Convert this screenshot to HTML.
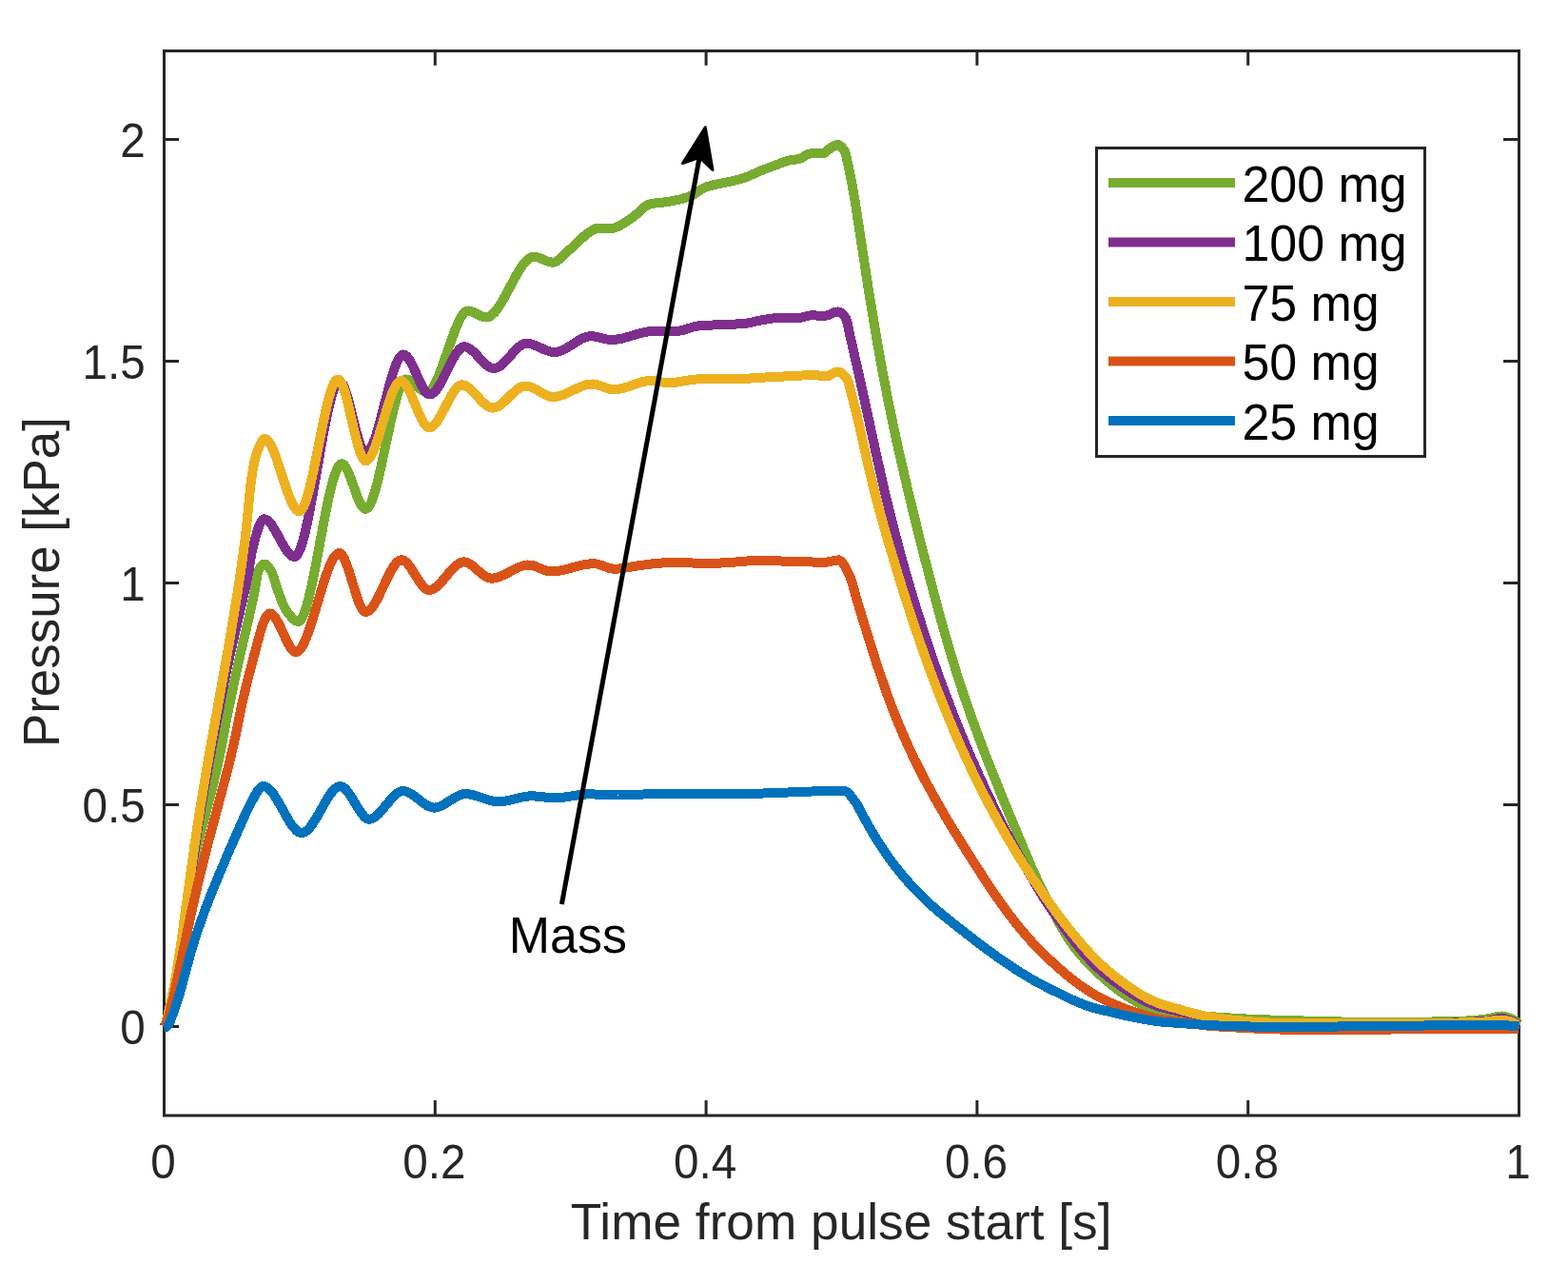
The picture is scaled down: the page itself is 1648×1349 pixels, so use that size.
<!DOCTYPE html>
<html><head><meta charset="utf-8"><title>Pressure vs time</title>
<style>
html,body{margin:0;padding:0;background:#fff;}
svg{display:block;}
text{font-family:"Liberation Sans",Arial,Helvetica,sans-serif;}
.tk{font-size:48.6px;fill:#262626;}
.lab{font-size:52.4px;fill:#262626;}
.leg{font-size:52.0px;fill:#000;}
</style></head><body>
<svg width="1648" height="1349" viewBox="0 0 1648 1349">
<rect x="0" y="0" width="1648" height="1349" fill="#fff"/>
<path d="M172.5,1172V1156M172.5,53.5V68.7M457.3,1172V1156M457.3,53.5V68.7M742.1,1172V1156M742.1,53.5V68.7M1026.9,1172V1156M1026.9,53.5V68.7M1311.7,1172V1156M1311.7,53.5V68.7M1596.5,1172V1156M1596.5,53.5V68.7M172.5,1078.5H188M1596.5,1078.5H1580M172.5,845.5H188M1596.5,845.5H1580M172.5,612.5H188M1596.5,612.5H1580M172.5,379.5H188M1596.5,379.5H1580M172.5,146.5H188M1596.5,146.5H1580" stroke="#262626" stroke-width="3" fill="none"/>
<text transform="translate(158.35,1237.50) scale(0.9530,1)" class="tk" style="font-size:50.0px">0</text>
<text transform="translate(423.28,1237.50) scale(0.9530,1)" class="tk" style="font-size:50.0px">0.2</text>
<text transform="translate(708.08,1237.50) scale(0.9530,1)" class="tk" style="font-size:50.0px">0.4</text>
<text transform="translate(992.88,1237.50) scale(0.9530,1)" class="tk" style="font-size:50.0px">0.6</text>
<text transform="translate(1277.68,1237.50) scale(0.9530,1)" class="tk" style="font-size:50.0px">0.8</text>
<text transform="translate(1582.35,1237.50) scale(0.9530,1)" class="tk" style="font-size:50.0px">1</text>
<text transform="translate(126.19,1096.90) scale(0.9530,1)" class="tk" style="font-size:50.0px">0</text>
<text transform="translate(86.46,863.90) scale(0.9530,1)" class="tk" style="font-size:50.0px">0.5</text>
<text transform="translate(126.19,630.90) scale(0.9530,1)" class="tk" style="font-size:50.0px">1</text>
<text transform="translate(86.46,397.90) scale(0.9530,1)" class="tk" style="font-size:50.0px">1.5</text>
<text transform="translate(126.19,164.90) scale(0.9530,1)" class="tk" style="font-size:50.0px">2</text>
<text transform="translate(599.84,1301.90) scale(1.0040,1)" class="lab" style="font-size:53px">Time from pulse start [s]</text>
<text transform="translate(61.9,785.03) rotate(-90) scale(0.998,1)" class="lab" style="font-size:53px">Pressure [kPa]</text>
<path d="M172.5,1172V53.5H1596.5V1172Z" stroke="#262626" stroke-width="3" fill="none"/>
<g stroke="#77AC30" fill="none" stroke-linejoin="round" stroke-linecap="butt" shape-rendering="crispEdges"><path d="M172.6,1078.5 L173.6,1077.4 L174.6,1075.6 L175.6,1073.4 L177.6,1067.4 L180.6,1055.4 L184.6,1034.9 L189.6,1004.9 L193.6,967.4 L195.6,951.8 L199.6,926.9 L204.6,901.1 L208.6,884.0 L223.6,825.9 L228.6,804.9 L231.6,790.3 L238.6,753.3 L246.6,714.3 L251.6,691.8 L262.6,644.5 L266.6,626.0 L268.6,615.3 L270.6,602.7 L271.6,599.5 L273.6,596.1 L274.6,594.8 L275.6,593.7 L276.6,593.0 L277.6,592.6 L278.6,592.7 L279.6,593.1 L280.6,594.0 L282.6,596.4 L285.6,601.2 L287.6,606.5 L291.6,619.3 L296.6,632.9 L298.6,637.5 L299.6,639.3 L302.6,643.7 L306.6,648.8 L308.6,650.8 L310.6,652.2 L312.6,652.9 L313.6,653.0 L314.6,652.6 L315.6,651.8 L317.6,649.0 L319.6,644.6 L321.6,638.8 L324.6,628.0 L327.6,615.0 L330.6,600.4 L340.6,547.1 L345.6,522.5 L348.6,509.9 L350.6,502.7 L353.6,494.2 L355.6,490.3 L356.6,488.9 L357.6,487.9 L358.6,487.4 L359.6,487.3 L360.6,487.7 L361.6,488.5 L362.6,489.7 L364.6,493.0 L366.6,497.3 L368.6,502.4 L375.6,521.9 L377.6,526.8 L379.6,530.7 L381.6,533.5 L382.6,534.4 L383.6,534.8 L384.6,534.9 L385.6,534.4 L386.6,533.6 L388.6,530.8 L390.6,526.6 L392.6,521.1 L394.6,514.5 L396.6,507.1 L399.6,494.5 L410.6,443.3 L414.6,426.3 L417.6,415.4 L419.6,409.4 L421.6,404.5 L423.6,401.0 L424.6,399.8 L425.6,399.0 L426.6,398.5 L428.6,398.7 L430.6,399.5 L432.6,400.7 L435.6,403.2 L441.6,408.7 L443.6,410.2 L445.6,411.3 L447.6,411.9 L449.6,411.9 L450.6,411.4 L452.6,409.9 L454.6,407.5 L456.6,404.3 L458.6,400.4 L460.6,395.9 L464.6,385.7 L474.6,356.7 L478.6,346.0 L482.6,336.8 L484.6,333.2 L486.6,330.2 L488.6,328.0 L489.6,327.3 L490.6,326.8 L492.6,326.5 L494.6,326.8 L496.6,327.5 L505.6,332.1 L507.6,332.8 L509.6,333.3 L511.6,333.4 L513.6,332.9 L515.6,331.9 L517.6,330.3 L519.6,328.4 L521.6,326.0 L523.6,323.3 L526.6,318.6 L531.6,309.8 L541.6,291.0 L546.6,282.5 L549.6,278.2 L551.6,275.6 L553.6,273.5 L555.6,271.8 L557.6,270.6 L559.6,269.9 L560.6,269.7 L562.6,269.8 L566.6,270.8 L574.6,274.2 L577.6,275.2 L580.6,275.7 L581.6,275.7 L583.6,275.2 L585.6,274.2 L588.6,271.9 L596.6,264.1 L601.6,259.8 L614.6,247.5 L618.6,244.5 L622.6,242.0 L625.6,240.3 L627.6,239.8 L643.6,239.8 L646.6,239.2 L649.6,238.0 L653.6,235.8 L664.6,228.6 L667.6,226.3 L676.6,218.1 L679.6,216.0 L681.6,214.9 L683.6,214.3 L687.6,213.6 L700.6,212.2 L706.6,211.2 L714.6,209.5 L721.6,207.5 L724.6,206.5 L727.6,205.1 L737.6,198.7 L740.6,197.1 L742.6,196.3 L751.6,193.8 L771.6,189.8 L780.6,187.4 L786.6,185.2 L799.6,179.4 L824.6,169.9 L829.6,168.5 L837.6,167.4 L840.6,166.8 L842.6,165.9 L847.6,162.7 L849.6,161.8 L852.6,161.4 L864.6,161.1 L866.6,160.7 L868.6,159.2 L871.6,156.4 L872.6,155.6 L877.6,152.9 L879.6,152.3 L880.6,152.2 L881.6,152.3 L882.6,152.8 L884.6,154.5 L887.6,158.6 L888.6,160.9 L889.6,164.9 L894.6,188.6 L898.6,211.1 L912.6,302.8 L921.6,357.4 L927.6,390.7 L932.6,416.7 L938.6,445.9 L944.6,473.6 L955.6,521.1 L969.6,577.8 L985.6,638.9 L991.6,660.6 L997.6,681.3 L1005.6,707.6 L1013.6,732.2 L1021.6,755.2 L1031.6,782.3 L1040.6,805.7 L1052.6,835.6 L1082.6,907.5 L1086.6,916.6 L1096.6,937.6 L1103.6,951.8 L1110.6,965.2 L1115.6,974.2 L1120.6,982.6 L1125.6,990.2 L1130.6,997.0 L1136.6,1004.3 L1142.6,1010.9 L1149.6,1018.0 L1157.6,1025.5 L1163.6,1030.9 L1169.6,1035.8 L1178.6,1042.6 L1185.6,1047.3 L1196.6,1053.9 L1199.6,1055.3 L1203.6,1056.7 L1209.6,1058.5 L1215.6,1060.0 L1225.6,1062.1 L1234.6,1063.8 L1247.6,1065.7 L1263.6,1067.4 L1282.6,1068.9 L1303.6,1070.2 L1325.6,1071.2 L1347.6,1071.9 L1398.6,1073.3 L1431.6,1073.9 L1454.6,1074.0 L1482.6,1073.8 L1513.6,1073.4 L1536.6,1072.8 L1548.6,1072.0 L1560.6,1070.9 L1564.6,1070.2 L1573.6,1067.9 L1576.6,1067.6 L1578.6,1067.5 L1582.6,1068.2 L1588.6,1070.2 L1590.6,1071.3 L1592.6,1072.7 L1596.5,1076.0" stroke-width="10"/><path d="M172.6,1078.5 L173.6,1077.4 L174.6,1075.6 L175.6,1073.4 L177.6,1067.4 L180.6,1055.4 L184.6,1034.9 L189.6,1004.9 L193.6,967.4 L195.6,951.8 L199.6,926.9 L204.6,901.1 L208.6,884.0 L223.6,825.9 L228.6,804.9 L231.6,790.3 L238.6,753.3 L246.6,714.3 L251.6,691.8 L262.6,644.5 L266.6,626.0 L268.6,615.3 L270.6,602.7 L271.6,599.5 L273.6,596.1 L274.6,594.8 L275.6,593.7 L276.6,593.0 L277.6,592.6 L278.6,592.7 L279.6,593.1 L280.6,594.0 L282.6,596.4 L285.6,601.2 L287.6,606.5 L291.6,619.3 L296.6,632.9 L298.6,637.5 L299.6,639.3 L302.6,643.7 L306.6,648.8 L308.6,650.8 L310.6,652.2 L312.6,652.9 L313.6,653.0 L314.6,652.6 L315.6,651.8 L317.6,649.0 L319.6,644.6 L321.6,638.8 L324.6,628.0 L327.6,615.0 L330.6,600.4 L340.6,547.1 L345.6,522.5 L348.6,509.9 L350.6,502.7 L353.6,494.2 L355.6,490.3 L356.6,488.9 L357.6,487.9 L358.6,487.4 L359.6,487.3 L360.6,487.7 L361.6,488.5 L362.6,489.7 L364.6,493.0 L366.6,497.3 L368.6,502.4 L375.6,521.9 L377.6,526.8 L379.6,530.7 L381.6,533.5 L382.6,534.4 L383.6,534.8 L384.6,534.9 L385.6,534.4 L386.6,533.6 L388.6,530.8 L390.6,526.6 L392.6,521.1 L394.6,514.5 L396.6,507.1 L399.6,494.5 L410.6,443.3 L414.6,426.3 L417.6,415.4 L419.6,409.4 L421.6,404.5 L423.6,401.0 L424.6,399.8 L425.6,399.0 L426.6,398.5 L428.6,398.7 L430.6,399.5 L432.6,400.7 L435.6,403.2 L441.6,408.7 L443.6,410.2 L445.6,411.3 L447.6,411.9 L449.6,411.9 L450.6,411.4 L452.6,409.9 L454.6,407.5 L456.6,404.3 L458.6,400.4 L460.6,395.9 L464.6,385.7 L474.6,356.7 L478.6,346.0 L482.6,336.8 L484.6,333.2 L486.6,330.2 L488.6,328.0 L489.6,327.3 L490.6,326.8 L492.6,326.5 L494.6,326.8 L496.6,327.5 L505.6,332.1 L507.6,332.8 L509.6,333.3 L511.6,333.4 L513.6,332.9 L515.6,331.9 L517.6,330.3 L519.6,328.4 L521.6,326.0 L523.6,323.3 L526.6,318.6 L531.6,309.8 L541.6,291.0 L546.6,282.5 L549.6,278.2 L551.6,275.6 L553.6,273.5 L555.6,271.8 L557.6,270.6 L559.6,269.9 L560.6,269.7 L562.6,269.8 L566.6,270.8 L574.6,274.2 L577.6,275.2 L580.6,275.7 L581.6,275.7 L583.6,275.2 L585.6,274.2 L588.6,271.9 L596.6,264.1 L601.6,259.8 L614.6,247.5 L618.6,244.5 L622.6,242.0 L625.6,240.3 L627.6,239.8 L643.6,239.8 L646.6,239.2 L649.6,238.0 L653.6,235.8 L664.6,228.6 L667.6,226.3 L676.6,218.1 L679.6,216.0 L681.6,214.9 L683.6,214.3 L687.6,213.6 L700.6,212.2 L706.6,211.2 L714.6,209.5 L721.6,207.5 L724.6,206.5 L727.6,205.1 L737.6,198.7 L740.6,197.1 L742.6,196.3 L751.6,193.8 L771.6,189.8 L780.6,187.4 L786.6,185.2 L799.6,179.4 L824.6,169.9 L829.6,168.5 L837.6,167.4 L840.6,166.8 L842.6,165.9 L847.6,162.7 L849.6,161.8 L852.6,161.4 L864.6,161.1 L866.6,160.7 L868.6,159.2 L871.6,156.4 L872.6,155.6 L877.6,152.9 L879.6,152.3 L880.6,152.2 L881.6,152.3 L882.6,152.8 L884.6,154.5 L887.6,158.6 L888.6,160.9 L889.6,164.9 L894.6,188.6 L898.6,211.1 L912.6,302.8 L921.6,357.4 L927.6,390.7 L932.6,416.7 L938.6,445.9 L944.6,473.6 L955.6,521.1 L969.6,577.8 L985.6,638.9 L991.6,660.6 L997.6,681.3 L1005.6,707.6 L1013.6,732.2 L1021.6,755.2 L1031.6,782.3 L1040.6,805.7 L1052.6,835.6 L1082.6,907.5 L1086.6,916.6 L1096.6,937.6 L1103.6,951.8 L1110.6,965.2 L1115.6,974.2 L1120.6,982.6 L1125.6,990.2 L1130.6,997.0 L1136.6,1004.3 L1142.6,1010.9 L1149.6,1018.0 L1157.6,1025.5 L1163.6,1030.9 L1169.6,1035.8 L1178.6,1042.6 L1185.6,1047.3 L1196.6,1053.9 L1199.6,1055.3 L1203.6,1056.7 L1209.6,1058.5 L1215.6,1060.0 L1225.6,1062.1 L1234.6,1063.8 L1247.6,1065.7 L1263.6,1067.4 L1282.6,1068.9 L1303.6,1070.2 L1325.6,1071.2 L1347.6,1071.9 L1398.6,1073.3 L1431.6,1073.9 L1454.6,1074.0 L1482.6,1073.8 L1513.6,1073.4 L1536.6,1072.8 L1548.6,1072.0 L1560.6,1070.9 L1564.6,1070.2 L1573.6,1067.9 L1576.6,1067.6 L1578.6,1067.5 L1582.6,1068.2 L1588.6,1070.2 L1590.6,1071.3 L1592.6,1072.7 L1596.5,1076.0" stroke-width="4"/></g>
<g stroke="#7E2F8E" fill="none" stroke-linejoin="round" stroke-linecap="butt" shape-rendering="crispEdges"><path d="M172.7,1078.5 L174.7,1073.4 L176.7,1067.5 L180.7,1053.7 L183.7,1040.8 L186.7,1024.5 L191.7,990.6 L202.7,907.3 L207.7,871.8 L212.7,840.2 L220.7,795.4 L237.7,706.5 L242.7,683.5 L257.7,618.2 L261.7,598.2 L264.7,579.3 L267.7,567.6 L270.7,557.2 L272.7,551.6 L273.7,549.4 L274.7,547.6 L275.7,546.3 L276.7,545.5 L277.7,545.3 L278.7,545.5 L279.7,545.8 L281.7,547.1 L283.7,549.2 L285.7,551.7 L289.7,558.2 L296.7,571.0 L299.7,576.1 L302.7,580.3 L304.7,582.6 L306.7,584.1 L307.7,584.6 L309.7,585.0 L310.7,584.7 L311.7,583.9 L312.7,582.6 L313.7,581.0 L315.7,576.5 L318.7,567.1 L320.7,559.3 L323.7,545.6 L328.7,519.3 L339.7,456.6 L344.7,431.7 L347.7,419.5 L349.7,412.8 L351.7,407.4 L352.7,405.3 L354.7,402.3 L355.7,401.4 L356.7,401.0 L357.7,401.1 L358.7,401.8 L359.7,403.0 L361.7,406.8 L363.7,412.1 L365.7,418.7 L374.7,454.1 L377.7,464.4 L379.7,469.9 L381.7,473.8 L382.7,475.0 L383.7,475.8 L384.7,476.0 L385.7,475.7 L386.7,475.1 L388.7,472.8 L390.7,469.2 L393.7,461.8 L395.7,455.8 L398.7,445.5 L408.7,406.9 L411.7,396.2 L413.7,389.8 L416.7,381.7 L418.7,377.5 L420.7,374.5 L421.7,373.5 L422.7,372.8 L423.7,372.5 L424.7,372.6 L425.7,373.0 L427.7,374.6 L429.7,377.2 L431.7,380.5 L433.7,384.4 L441.7,402.0 L444.7,407.7 L446.7,410.8 L448.7,413.0 L450.7,414.2 L451.7,414.4 L453.7,414.0 L455.7,412.7 L457.7,410.8 L459.7,408.2 L461.7,405.1 L464.7,399.8 L474.7,379.6 L478.7,372.5 L480.7,369.6 L482.7,367.2 L484.7,365.5 L486.7,364.5 L487.7,364.3 L489.7,364.5 L491.7,365.2 L493.7,366.3 L495.7,367.8 L498.7,370.5 L507.7,380.1 L511.7,383.7 L513.7,385.2 L515.7,386.2 L517.7,386.9 L519.7,387.0 L522.7,386.2 L524.7,385.2 L526.7,383.8 L530.7,380.1 L540.7,369.0 L544.7,365.1 L546.7,363.5 L548.7,362.2 L550.7,361.3 L552.7,360.8 L554.7,360.8 L556.7,361.1 L560.7,362.2 L564.7,363.8 L572.7,367.5 L577.7,369.3 L581.7,370.0 L584.7,369.9 L587.7,369.2 L591.7,367.7 L596.7,365.0 L606.7,358.5 L610.7,356.2 L614.7,354.4 L618.7,353.4 L621.7,353.2 L624.7,353.5 L628.7,354.3 L636.7,356.3 L639.7,356.8 L642.7,357.0 L646.7,356.8 L650.7,356.2 L654.7,355.4 L673.7,349.9 L677.7,349.0 L681.7,348.3 L686.7,347.9 L710.7,347.9 L713.7,347.7 L717.7,346.9 L728.7,343.5 L733.7,342.4 L743.7,341.7 L770.7,340.7 L782.7,339.9 L786.7,339.3 L796.7,337.0 L809.7,334.8 L815.7,334.0 L822.7,333.7 L837.7,334.5 L840.7,334.1 L848.7,331.9 L851.7,331.4 L854.7,331.3 L863.7,331.9 L866.7,332.0 L869.7,331.3 L877.7,328.0 L880.7,327.5 L881.7,327.6 L883.7,328.6 L884.7,329.4 L886.7,331.4 L888.7,334.0 L889.7,336.2 L890.7,339.7 L893.7,353.9 L904.7,402.3 L921.7,480.6 L929.7,515.9 L934.7,536.7 L940.7,560.2 L946.7,582.9 L952.7,604.5 L963.7,641.4 L975.7,678.6 L981.7,696.1 L988.7,715.7 L1001.7,750.1 L1009.7,770.1 L1017.7,789.2 L1026.7,809.7 L1035.7,829.4 L1044.7,848.3 L1053.7,866.5 L1061.7,881.8 L1071.7,900.1 L1080.7,915.9 L1093.7,938.0 L1098.7,946.0 L1107.7,959.3 L1119.7,976.4 L1129.7,989.8 L1138.7,1000.9 L1147.7,1011.0 L1151.7,1015.0 L1156.7,1019.5 L1165.7,1026.9 L1173.7,1032.9 L1183.7,1039.8 L1194.7,1046.8 L1198.7,1049.1 L1205.7,1052.6 L1214.7,1056.4 L1218.7,1057.8 L1223.7,1059.2 L1259.7,1067.1 L1271.7,1069.2 L1286.7,1071.2 L1299.7,1072.5 L1328.7,1074.4 L1339.7,1074.8 L1349.7,1075.0 L1500.7,1075.0 L1518.7,1074.8 L1539.7,1074.1 L1560.7,1072.9 L1564.7,1072.3 L1573.7,1070.4 L1576.7,1070.0 L1578.7,1070.0 L1580.7,1070.2 L1583.7,1070.9 L1589.7,1072.9 L1592.7,1074.3 L1596.5,1077.0" stroke-width="10"/><path d="M172.7,1078.5 L174.7,1073.4 L176.7,1067.5 L180.7,1053.7 L183.7,1040.8 L186.7,1024.5 L191.7,990.6 L202.7,907.3 L207.7,871.8 L212.7,840.2 L220.7,795.4 L237.7,706.5 L242.7,683.5 L257.7,618.2 L261.7,598.2 L264.7,579.3 L267.7,567.6 L270.7,557.2 L272.7,551.6 L273.7,549.4 L274.7,547.6 L275.7,546.3 L276.7,545.5 L277.7,545.3 L278.7,545.5 L279.7,545.8 L281.7,547.1 L283.7,549.2 L285.7,551.7 L289.7,558.2 L296.7,571.0 L299.7,576.1 L302.7,580.3 L304.7,582.6 L306.7,584.1 L307.7,584.6 L309.7,585.0 L310.7,584.7 L311.7,583.9 L312.7,582.6 L313.7,581.0 L315.7,576.5 L318.7,567.1 L320.7,559.3 L323.7,545.6 L328.7,519.3 L339.7,456.6 L344.7,431.7 L347.7,419.5 L349.7,412.8 L351.7,407.4 L352.7,405.3 L354.7,402.3 L355.7,401.4 L356.7,401.0 L357.7,401.1 L358.7,401.8 L359.7,403.0 L361.7,406.8 L363.7,412.1 L365.7,418.7 L374.7,454.1 L377.7,464.4 L379.7,469.9 L381.7,473.8 L382.7,475.0 L383.7,475.8 L384.7,476.0 L385.7,475.7 L386.7,475.1 L388.7,472.8 L390.7,469.2 L393.7,461.8 L395.7,455.8 L398.7,445.5 L408.7,406.9 L411.7,396.2 L413.7,389.8 L416.7,381.7 L418.7,377.5 L420.7,374.5 L421.7,373.5 L422.7,372.8 L423.7,372.5 L424.7,372.6 L425.7,373.0 L427.7,374.6 L429.7,377.2 L431.7,380.5 L433.7,384.4 L441.7,402.0 L444.7,407.7 L446.7,410.8 L448.7,413.0 L450.7,414.2 L451.7,414.4 L453.7,414.0 L455.7,412.7 L457.7,410.8 L459.7,408.2 L461.7,405.1 L464.7,399.8 L474.7,379.6 L478.7,372.5 L480.7,369.6 L482.7,367.2 L484.7,365.5 L486.7,364.5 L487.7,364.3 L489.7,364.5 L491.7,365.2 L493.7,366.3 L495.7,367.8 L498.7,370.5 L507.7,380.1 L511.7,383.7 L513.7,385.2 L515.7,386.2 L517.7,386.9 L519.7,387.0 L522.7,386.2 L524.7,385.2 L526.7,383.8 L530.7,380.1 L540.7,369.0 L544.7,365.1 L546.7,363.5 L548.7,362.2 L550.7,361.3 L552.7,360.8 L554.7,360.8 L556.7,361.1 L560.7,362.2 L564.7,363.8 L572.7,367.5 L577.7,369.3 L581.7,370.0 L584.7,369.9 L587.7,369.2 L591.7,367.7 L596.7,365.0 L606.7,358.5 L610.7,356.2 L614.7,354.4 L618.7,353.4 L621.7,353.2 L624.7,353.5 L628.7,354.3 L636.7,356.3 L639.7,356.8 L642.7,357.0 L646.7,356.8 L650.7,356.2 L654.7,355.4 L673.7,349.9 L677.7,349.0 L681.7,348.3 L686.7,347.9 L710.7,347.9 L713.7,347.7 L717.7,346.9 L728.7,343.5 L733.7,342.4 L743.7,341.7 L770.7,340.7 L782.7,339.9 L786.7,339.3 L796.7,337.0 L809.7,334.8 L815.7,334.0 L822.7,333.7 L837.7,334.5 L840.7,334.1 L848.7,331.9 L851.7,331.4 L854.7,331.3 L863.7,331.9 L866.7,332.0 L869.7,331.3 L877.7,328.0 L880.7,327.5 L881.7,327.6 L883.7,328.6 L884.7,329.4 L886.7,331.4 L888.7,334.0 L889.7,336.2 L890.7,339.7 L893.7,353.9 L904.7,402.3 L921.7,480.6 L929.7,515.9 L934.7,536.7 L940.7,560.2 L946.7,582.9 L952.7,604.5 L963.7,641.4 L975.7,678.6 L981.7,696.1 L988.7,715.7 L1001.7,750.1 L1009.7,770.1 L1017.7,789.2 L1026.7,809.7 L1035.7,829.4 L1044.7,848.3 L1053.7,866.5 L1061.7,881.8 L1071.7,900.1 L1080.7,915.9 L1093.7,938.0 L1098.7,946.0 L1107.7,959.3 L1119.7,976.4 L1129.7,989.8 L1138.7,1000.9 L1147.7,1011.0 L1151.7,1015.0 L1156.7,1019.5 L1165.7,1026.9 L1173.7,1032.9 L1183.7,1039.8 L1194.7,1046.8 L1198.7,1049.1 L1205.7,1052.6 L1214.7,1056.4 L1218.7,1057.8 L1223.7,1059.2 L1259.7,1067.1 L1271.7,1069.2 L1286.7,1071.2 L1299.7,1072.5 L1328.7,1074.4 L1339.7,1074.8 L1349.7,1075.0 L1500.7,1075.0 L1518.7,1074.8 L1539.7,1074.1 L1560.7,1072.9 L1564.7,1072.3 L1573.7,1070.4 L1576.7,1070.0 L1578.7,1070.0 L1580.7,1070.2 L1583.7,1070.9 L1589.7,1072.9 L1592.7,1074.3 L1596.5,1077.0" stroke-width="4"/></g>
<g stroke="#EDB120" fill="none" stroke-linejoin="round" stroke-linecap="butt" shape-rendering="crispEdges"><path d="M173.2,1078.5 L176.2,1067.4 L179.2,1054.9 L182.2,1040.5 L185.2,1024.1 L190.2,991.8 L204.2,890.0 L210.2,849.9 L218.2,801.9 L239.2,684.8 L245.2,649.9 L249.2,625.4 L253.2,598.9 L257.2,569.8 L259.2,552.6 L263.2,510.5 L265.2,496.8 L267.2,485.9 L269.2,477.9 L273.2,467.3 L275.2,463.4 L276.2,462.1 L277.2,461.3 L278.2,461.0 L279.2,461.2 L280.2,461.7 L282.2,463.7 L283.2,465.1 L285.2,468.6 L287.2,472.9 L290.2,480.7 L301.2,514.1 L304.2,522.4 L306.2,527.1 L309.2,532.8 L311.2,535.4 L312.2,536.3 L313.2,536.9 L314.2,537.2 L315.2,537.1 L316.2,536.5 L317.2,535.4 L319.2,532.1 L321.2,527.1 L323.2,520.9 L325.2,513.5 L328.2,500.6 L339.2,445.9 L344.2,423.4 L347.2,412.5 L349.2,406.6 L351.2,402.2 L352.2,400.6 L353.2,399.5 L354.2,398.7 L355.2,398.5 L356.2,398.8 L357.2,399.7 L358.2,401.1 L359.2,402.9 L361.2,408.0 L363.2,414.4 L365.2,422.0 L373.2,456.4 L377.2,471.5 L379.2,477.3 L381.2,481.6 L382.2,483.0 L383.2,483.9 L384.2,484.3 L385.2,484.2 L386.2,483.7 L388.2,481.7 L390.2,478.6 L392.2,474.5 L394.2,469.5 L397.2,460.9 L407.2,427.7 L410.2,418.6 L412.2,413.1 L415.2,406.5 L417.2,403.2 L419.2,401.0 L420.2,400.5 L421.2,400.2 L422.2,400.3 L423.2,400.7 L424.2,401.4 L425.2,402.4 L427.2,405.1 L429.2,408.5 L431.2,412.6 L440.2,434.2 L444.2,442.5 L446.2,445.6 L448.2,447.9 L449.2,448.7 L450.2,449.1 L451.2,449.3 L452.2,449.2 L454.2,448.3 L456.2,446.7 L458.2,444.4 L460.2,441.6 L463.2,436.6 L473.2,417.6 L477.2,411.0 L479.2,408.4 L481.2,406.3 L483.2,405.0 L485.2,404.4 L486.2,404.4 L488.2,404.9 L490.2,405.8 L492.2,407.1 L496.2,410.5 L506.2,421.4 L510.2,425.1 L512.2,426.6 L514.2,427.7 L516.2,428.4 L518.2,428.6 L521.2,428.0 L523.2,427.2 L525.2,425.9 L527.2,424.5 L530.2,421.8 L539.2,412.9 L543.2,409.4 L547.2,406.7 L549.2,405.9 L551.2,405.5 L554.2,405.6 L558.2,406.7 L562.2,408.5 L570.2,413.2 L574.2,415.2 L578.2,416.6 L580.2,416.9 L582.2,417.0 L586.2,416.5 L591.2,415.1 L596.2,413.0 L606.2,408.1 L611.2,406.0 L616.2,404.3 L620.2,403.6 L623.2,403.5 L626.2,403.9 L630.2,405.1 L640.2,408.6 L643.2,409.2 L646.2,409.3 L650.2,408.9 L654.2,408.0 L659.2,406.6 L673.2,401.7 L678.2,400.5 L682.2,400.0 L687.2,400.1 L699.2,402.0 L704.2,402.3 L710.2,401.8 L726.2,399.1 L733.2,398.4 L777.2,398.3 L800.2,396.7 L853.2,394.0 L858.2,394.1 L865.2,395.3 L868.2,395.5 L869.2,395.4 L871.2,394.7 L877.2,391.3 L879.2,390.6 L880.2,390.5 L881.2,390.6 L883.2,391.2 L886.2,393.4 L888.2,395.5 L890.2,398.0 L891.2,400.1 L893.2,407.1 L900.2,434.8 L905.2,456.1 L913.2,492.4 L921.2,524.8 L931.2,561.2 L945.2,608.0 L953.2,633.5 L960.2,655.0 L969.2,681.3 L977.2,703.7 L984.2,722.4 L992.2,742.7 L1000.2,762.1 L1008.2,780.7 L1015.2,796.2 L1023.2,813.2 L1032.2,831.3 L1040.2,846.7 L1049.2,863.3 L1058.2,879.1 L1067.2,894.2 L1076.2,908.7 L1085.2,922.6 L1095.2,937.4 L1107.2,954.4 L1116.2,966.6 L1127.2,980.4 L1137.2,992.4 L1146.2,1002.5 L1154.2,1010.6 L1160.2,1016.1 L1167.2,1022.1 L1174.2,1027.7 L1182.2,1033.7 L1197.2,1043.9 L1204.2,1047.8 L1211.2,1051.3 L1217.2,1053.9 L1222.2,1055.6 L1239.2,1060.3 L1249.2,1063.3 L1265.2,1067.3 L1279.2,1069.7 L1289.2,1071.0 L1318.2,1073.6 L1334.2,1074.6 L1348.2,1075.0 L1516.2,1074.9 L1537.2,1074.4 L1560.2,1073.5 L1564.2,1073.1 L1573.2,1071.8 L1578.2,1071.5 L1583.2,1072.1 L1590.2,1074.1 L1593.2,1075.6 L1596.5,1078.0" stroke-width="10"/><path d="M173.2,1078.5 L176.2,1067.4 L179.2,1054.9 L182.2,1040.5 L185.2,1024.1 L190.2,991.8 L204.2,890.0 L210.2,849.9 L218.2,801.9 L239.2,684.8 L245.2,649.9 L249.2,625.4 L253.2,598.9 L257.2,569.8 L259.2,552.6 L263.2,510.5 L265.2,496.8 L267.2,485.9 L269.2,477.9 L273.2,467.3 L275.2,463.4 L276.2,462.1 L277.2,461.3 L278.2,461.0 L279.2,461.2 L280.2,461.7 L282.2,463.7 L283.2,465.1 L285.2,468.6 L287.2,472.9 L290.2,480.7 L301.2,514.1 L304.2,522.4 L306.2,527.1 L309.2,532.8 L311.2,535.4 L312.2,536.3 L313.2,536.9 L314.2,537.2 L315.2,537.1 L316.2,536.5 L317.2,535.4 L319.2,532.1 L321.2,527.1 L323.2,520.9 L325.2,513.5 L328.2,500.6 L339.2,445.9 L344.2,423.4 L347.2,412.5 L349.2,406.6 L351.2,402.2 L352.2,400.6 L353.2,399.5 L354.2,398.7 L355.2,398.5 L356.2,398.8 L357.2,399.7 L358.2,401.1 L359.2,402.9 L361.2,408.0 L363.2,414.4 L365.2,422.0 L373.2,456.4 L377.2,471.5 L379.2,477.3 L381.2,481.6 L382.2,483.0 L383.2,483.9 L384.2,484.3 L385.2,484.2 L386.2,483.7 L388.2,481.7 L390.2,478.6 L392.2,474.5 L394.2,469.5 L397.2,460.9 L407.2,427.7 L410.2,418.6 L412.2,413.1 L415.2,406.5 L417.2,403.2 L419.2,401.0 L420.2,400.5 L421.2,400.2 L422.2,400.3 L423.2,400.7 L424.2,401.4 L425.2,402.4 L427.2,405.1 L429.2,408.5 L431.2,412.6 L440.2,434.2 L444.2,442.5 L446.2,445.6 L448.2,447.9 L449.2,448.7 L450.2,449.1 L451.2,449.3 L452.2,449.2 L454.2,448.3 L456.2,446.7 L458.2,444.4 L460.2,441.6 L463.2,436.6 L473.2,417.6 L477.2,411.0 L479.2,408.4 L481.2,406.3 L483.2,405.0 L485.2,404.4 L486.2,404.4 L488.2,404.9 L490.2,405.8 L492.2,407.1 L496.2,410.5 L506.2,421.4 L510.2,425.1 L512.2,426.6 L514.2,427.7 L516.2,428.4 L518.2,428.6 L521.2,428.0 L523.2,427.2 L525.2,425.9 L527.2,424.5 L530.2,421.8 L539.2,412.9 L543.2,409.4 L547.2,406.7 L549.2,405.9 L551.2,405.5 L554.2,405.6 L558.2,406.7 L562.2,408.5 L570.2,413.2 L574.2,415.2 L578.2,416.6 L580.2,416.9 L582.2,417.0 L586.2,416.5 L591.2,415.1 L596.2,413.0 L606.2,408.1 L611.2,406.0 L616.2,404.3 L620.2,403.6 L623.2,403.5 L626.2,403.9 L630.2,405.1 L640.2,408.6 L643.2,409.2 L646.2,409.3 L650.2,408.9 L654.2,408.0 L659.2,406.6 L673.2,401.7 L678.2,400.5 L682.2,400.0 L687.2,400.1 L699.2,402.0 L704.2,402.3 L710.2,401.8 L726.2,399.1 L733.2,398.4 L777.2,398.3 L800.2,396.7 L853.2,394.0 L858.2,394.1 L865.2,395.3 L868.2,395.5 L869.2,395.4 L871.2,394.7 L877.2,391.3 L879.2,390.6 L880.2,390.5 L881.2,390.6 L883.2,391.2 L886.2,393.4 L888.2,395.5 L890.2,398.0 L891.2,400.1 L893.2,407.1 L900.2,434.8 L905.2,456.1 L913.2,492.4 L921.2,524.8 L931.2,561.2 L945.2,608.0 L953.2,633.5 L960.2,655.0 L969.2,681.3 L977.2,703.7 L984.2,722.4 L992.2,742.7 L1000.2,762.1 L1008.2,780.7 L1015.2,796.2 L1023.2,813.2 L1032.2,831.3 L1040.2,846.7 L1049.2,863.3 L1058.2,879.1 L1067.2,894.2 L1076.2,908.7 L1085.2,922.6 L1095.2,937.4 L1107.2,954.4 L1116.2,966.6 L1127.2,980.4 L1137.2,992.4 L1146.2,1002.5 L1154.2,1010.6 L1160.2,1016.1 L1167.2,1022.1 L1174.2,1027.7 L1182.2,1033.7 L1197.2,1043.9 L1204.2,1047.8 L1211.2,1051.3 L1217.2,1053.9 L1222.2,1055.6 L1239.2,1060.3 L1249.2,1063.3 L1265.2,1067.3 L1279.2,1069.7 L1289.2,1071.0 L1318.2,1073.6 L1334.2,1074.6 L1348.2,1075.0 L1516.2,1074.9 L1537.2,1074.4 L1560.2,1073.5 L1564.2,1073.1 L1573.2,1071.8 L1578.2,1071.5 L1583.2,1072.1 L1590.2,1074.1 L1593.2,1075.6 L1596.5,1078.0" stroke-width="4"/></g>
<g stroke="#D95319" fill="none" stroke-linejoin="round" stroke-linecap="butt" shape-rendering="crispEdges"><path d="M173.5,1078.5 L176.5,1069.7 L178.5,1063.0 L182.5,1047.2 L200.5,961.6 L205.5,939.3 L210.5,918.3 L220.5,878.9 L236.5,819.0 L241.5,799.4 L247.5,773.7 L254.5,739.0 L259.5,717.4 L272.5,668.2 L274.5,661.3 L276.5,655.3 L278.5,650.3 L279.5,648.4 L281.5,645.6 L282.5,644.8 L283.5,644.5 L284.5,644.6 L285.5,645.0 L286.5,645.7 L288.5,647.9 L291.5,652.6 L294.5,658.5 L301.5,673.6 L303.5,677.4 L305.5,680.6 L307.5,683.1 L308.5,684.0 L309.5,684.6 L310.5,684.9 L311.5,685.0 L312.5,684.7 L314.5,683.4 L316.5,681.0 L319.5,675.7 L321.5,671.2 L324.5,663.3 L329.5,647.8 L340.5,611.0 L343.5,602.1 L346.5,594.3 L349.5,588.0 L351.5,584.8 L353.5,582.6 L354.5,581.9 L355.5,581.4 L356.5,581.2 L357.5,581.4 L358.5,582.0 L359.5,583.1 L361.5,586.3 L363.5,590.8 L366.5,599.2 L374.5,625.2 L376.5,631.0 L378.5,636.0 L380.5,639.8 L381.5,641.2 L382.5,642.2 L383.5,642.8 L384.5,643.0 L386.5,642.5 L388.5,641.1 L390.5,639.1 L392.5,636.4 L394.5,633.2 L397.5,627.6 L407.5,606.4 L410.5,600.5 L412.5,597.0 L415.5,592.6 L417.5,590.5 L419.5,589.0 L421.5,588.3 L422.5,588.3 L424.5,589.0 L425.5,589.6 L427.5,591.3 L429.5,593.5 L431.5,596.3 L440.5,610.5 L444.5,615.9 L446.5,617.9 L448.5,619.3 L450.5,620.0 L451.5,620.0 L453.5,619.6 L455.5,618.8 L457.5,617.5 L459.5,615.9 L463.5,611.9 L473.5,600.1 L477.5,595.8 L480.5,593.2 L482.5,591.9 L484.5,590.9 L486.5,590.5 L487.5,590.4 L489.5,590.7 L491.5,591.3 L493.5,592.4 L497.5,595.2 L505.5,602.1 L509.5,605.2 L511.5,606.3 L513.5,607.2 L516.5,607.7 L520.5,607.3 L525.5,605.8 L530.5,603.6 L540.5,598.3 L545.5,595.9 L550.5,594.2 L554.5,593.5 L557.5,593.6 L560.5,594.2 L563.5,595.3 L573.5,599.4 L576.5,600.1 L579.5,600.4 L584.5,600.1 L589.5,599.3 L594.5,598.2 L612.5,593.5 L617.5,592.7 L622.5,592.2 L625.5,592.3 L627.5,592.6 L631.5,593.7 L640.5,596.9 L643.5,597.5 L646.5,597.7 L650.5,597.5 L654.5,597.0 L669.5,594.5 L685.5,592.4 L696.5,591.4 L755.5,591.6 L764.5,591.2 L786.5,589.4 L796.5,589.1 L820.5,589.5 L866.5,590.9 L870.5,590.4 L878.5,588.7 L881.5,588.4 L882.5,588.6 L883.5,589.2 L884.5,590.0 L885.5,591.2 L887.5,594.2 L892.5,603.9 L894.5,608.9 L896.5,615.4 L900.5,629.9 L907.5,653.1 L921.5,697.8 L932.5,729.7 L937.5,743.2 L942.5,755.9 L951.5,777.2 L960.5,796.7 L971.5,818.4 L984.5,842.1 L994.5,859.3 L1003.5,874.2 L1016.5,895.1 L1028.5,913.9 L1041.5,933.7 L1049.5,945.4 L1058.5,957.9 L1066.5,968.4 L1074.5,978.2 L1082.5,987.4 L1090.5,996.0 L1098.5,1003.9 L1108.5,1013.3 L1118.5,1022.1 L1128.5,1030.2 L1137.5,1036.8 L1144.5,1041.4 L1151.5,1045.6 L1158.5,1049.4 L1166.5,1053.2 L1175.5,1057.0 L1185.5,1060.9 L1194.5,1064.0 L1205.5,1067.5 L1213.5,1069.8 L1220.5,1071.3 L1241.5,1073.7 L1260.5,1076.6 L1268.5,1077.6 L1281.5,1078.5 L1317.5,1080.5 L1332.5,1081.2 L1344.5,1081.5 L1461.5,1081.5 L1574.5,1081.0 L1596.5,1081.5" stroke-width="10"/><path d="M173.5,1078.5 L176.5,1069.7 L178.5,1063.0 L182.5,1047.2 L200.5,961.6 L205.5,939.3 L210.5,918.3 L220.5,878.9 L236.5,819.0 L241.5,799.4 L247.5,773.7 L254.5,739.0 L259.5,717.4 L272.5,668.2 L274.5,661.3 L276.5,655.3 L278.5,650.3 L279.5,648.4 L281.5,645.6 L282.5,644.8 L283.5,644.5 L284.5,644.6 L285.5,645.0 L286.5,645.7 L288.5,647.9 L291.5,652.6 L294.5,658.5 L301.5,673.6 L303.5,677.4 L305.5,680.6 L307.5,683.1 L308.5,684.0 L309.5,684.6 L310.5,684.9 L311.5,685.0 L312.5,684.7 L314.5,683.4 L316.5,681.0 L319.5,675.7 L321.5,671.2 L324.5,663.3 L329.5,647.8 L340.5,611.0 L343.5,602.1 L346.5,594.3 L349.5,588.0 L351.5,584.8 L353.5,582.6 L354.5,581.9 L355.5,581.4 L356.5,581.2 L357.5,581.4 L358.5,582.0 L359.5,583.1 L361.5,586.3 L363.5,590.8 L366.5,599.2 L374.5,625.2 L376.5,631.0 L378.5,636.0 L380.5,639.8 L381.5,641.2 L382.5,642.2 L383.5,642.8 L384.5,643.0 L386.5,642.5 L388.5,641.1 L390.5,639.1 L392.5,636.4 L394.5,633.2 L397.5,627.6 L407.5,606.4 L410.5,600.5 L412.5,597.0 L415.5,592.6 L417.5,590.5 L419.5,589.0 L421.5,588.3 L422.5,588.3 L424.5,589.0 L425.5,589.6 L427.5,591.3 L429.5,593.5 L431.5,596.3 L440.5,610.5 L444.5,615.9 L446.5,617.9 L448.5,619.3 L450.5,620.0 L451.5,620.0 L453.5,619.6 L455.5,618.8 L457.5,617.5 L459.5,615.9 L463.5,611.9 L473.5,600.1 L477.5,595.8 L480.5,593.2 L482.5,591.9 L484.5,590.9 L486.5,590.5 L487.5,590.4 L489.5,590.7 L491.5,591.3 L493.5,592.4 L497.5,595.2 L505.5,602.1 L509.5,605.2 L511.5,606.3 L513.5,607.2 L516.5,607.7 L520.5,607.3 L525.5,605.8 L530.5,603.6 L540.5,598.3 L545.5,595.9 L550.5,594.2 L554.5,593.5 L557.5,593.6 L560.5,594.2 L563.5,595.3 L573.5,599.4 L576.5,600.1 L579.5,600.4 L584.5,600.1 L589.5,599.3 L594.5,598.2 L612.5,593.5 L617.5,592.7 L622.5,592.2 L625.5,592.3 L627.5,592.6 L631.5,593.7 L640.5,596.9 L643.5,597.5 L646.5,597.7 L650.5,597.5 L654.5,597.0 L669.5,594.5 L685.5,592.4 L696.5,591.4 L755.5,591.6 L764.5,591.2 L786.5,589.4 L796.5,589.1 L820.5,589.5 L866.5,590.9 L870.5,590.4 L878.5,588.7 L881.5,588.4 L882.5,588.6 L883.5,589.2 L884.5,590.0 L885.5,591.2 L887.5,594.2 L892.5,603.9 L894.5,608.9 L896.5,615.4 L900.5,629.9 L907.5,653.1 L921.5,697.8 L932.5,729.7 L937.5,743.2 L942.5,755.9 L951.5,777.2 L960.5,796.7 L971.5,818.4 L984.5,842.1 L994.5,859.3 L1003.5,874.2 L1016.5,895.1 L1028.5,913.9 L1041.5,933.7 L1049.5,945.4 L1058.5,957.9 L1066.5,968.4 L1074.5,978.2 L1082.5,987.4 L1090.5,996.0 L1098.5,1003.9 L1108.5,1013.3 L1118.5,1022.1 L1128.5,1030.2 L1137.5,1036.8 L1144.5,1041.4 L1151.5,1045.6 L1158.5,1049.4 L1166.5,1053.2 L1175.5,1057.0 L1185.5,1060.9 L1194.5,1064.0 L1205.5,1067.5 L1213.5,1069.8 L1220.5,1071.3 L1241.5,1073.7 L1260.5,1076.6 L1268.5,1077.6 L1281.5,1078.5 L1317.5,1080.5 L1332.5,1081.2 L1344.5,1081.5 L1461.5,1081.5 L1574.5,1081.0 L1596.5,1081.5" stroke-width="4"/></g>
<g stroke="#0072BD" fill="none" stroke-linejoin="round" stroke-linecap="butt" shape-rendering="crispEdges"><path d="M172.5,1079.5 L174.5,1079.0 L175.5,1078.4 L177.5,1076.2 L182.5,1063.5 L185.5,1054.8 L189.5,1041.8 L200.5,1000.7 L206.5,981.3 L215.5,955.8 L222.5,937.9 L229.5,920.7 L242.5,890.1 L259.5,851.8 L267.5,836.5 L270.5,831.5 L272.5,828.8 L274.5,827.0 L275.5,826.4 L276.5,826.1 L277.5,826.1 L279.5,826.6 L280.5,827.2 L282.5,828.6 L284.5,830.6 L287.5,834.4 L292.5,842.4 L303.5,862.0 L306.5,866.6 L308.5,869.3 L311.5,872.5 L313.5,874.0 L315.5,874.9 L317.5,875.1 L319.5,874.6 L320.5,874.1 L322.5,872.7 L324.5,870.8 L327.5,867.1 L332.5,859.3 L343.5,839.9 L346.5,835.2 L348.5,832.5 L351.5,829.2 L353.5,827.6 L355.5,826.5 L357.5,826.1 L359.5,826.4 L361.5,827.6 L363.5,829.4 L365.5,831.8 L369.5,837.7 L377.5,851.0 L381.5,856.5 L383.5,858.6 L385.5,860.0 L387.5,860.7 L388.5,860.7 L390.5,860.3 L392.5,859.4 L394.5,858.1 L397.5,855.5 L401.5,851.2 L411.5,838.9 L415.5,834.9 L417.5,833.3 L419.5,832.1 L421.5,831.3 L423.5,831.0 L425.5,831.2 L427.5,831.7 L431.5,833.6 L435.5,836.3 L445.5,844.1 L449.5,846.6 L451.5,847.5 L453.5,848.2 L456.5,848.6 L459.5,848.2 L463.5,846.9 L467.5,844.7 L476.5,838.9 L480.5,836.6 L484.5,834.9 L486.5,834.4 L488.5,834.1 L492.5,834.3 L496.5,835.0 L500.5,836.2 L511.5,839.9 L515.5,841.1 L520.5,842.1 L524.5,842.3 L528.5,842.0 L532.5,841.4 L548.5,837.6 L555.5,836.5 L558.5,836.4 L562.5,836.5 L578.5,838.1 L585.5,838.3 L592.5,837.7 L608.5,835.2 L616.5,834.4 L624.5,834.5 L641.5,835.3 L649.5,835.5 L656.5,835.4 L680.5,834.3 L727.5,834.5 L780.5,834.1 L802.5,833.5 L863.5,831.1 L887.5,831.0 L889.5,831.7 L890.5,832.4 L892.5,834.3 L895.5,837.8 L900.5,844.6 L907.5,858.0 L914.5,870.4 L920.5,880.5 L930.5,895.9 L935.5,903.1 L940.5,909.8 L950.5,922.0 L960.5,933.2 L970.5,943.3 L981.5,953.4 L989.5,960.2 L1000.5,969.1 L1030.5,992.4 L1050.5,1007.0 L1067.5,1018.5 L1084.5,1028.8 L1093.5,1033.8 L1103.5,1039.0 L1126.5,1050.1 L1136.5,1054.4 L1143.5,1057.1 L1148.5,1058.6 L1154.5,1060.2 L1179.5,1066.2 L1195.5,1069.6 L1212.5,1072.5 L1219.5,1073.4 L1227.5,1074.1 L1261.5,1076.5 L1280.5,1077.5 L1317.5,1078.6 L1348.5,1079.0 L1379.5,1078.8 L1506.5,1077.4 L1555.5,1077.0 L1577.5,1077.1 L1596.5,1078.0" stroke-width="10"/><path d="M172.5,1079.5 L174.5,1079.0 L175.5,1078.4 L177.5,1076.2 L182.5,1063.5 L185.5,1054.8 L189.5,1041.8 L200.5,1000.7 L206.5,981.3 L215.5,955.8 L222.5,937.9 L229.5,920.7 L242.5,890.1 L259.5,851.8 L267.5,836.5 L270.5,831.5 L272.5,828.8 L274.5,827.0 L275.5,826.4 L276.5,826.1 L277.5,826.1 L279.5,826.6 L280.5,827.2 L282.5,828.6 L284.5,830.6 L287.5,834.4 L292.5,842.4 L303.5,862.0 L306.5,866.6 L308.5,869.3 L311.5,872.5 L313.5,874.0 L315.5,874.9 L317.5,875.1 L319.5,874.6 L320.5,874.1 L322.5,872.7 L324.5,870.8 L327.5,867.1 L332.5,859.3 L343.5,839.9 L346.5,835.2 L348.5,832.5 L351.5,829.2 L353.5,827.6 L355.5,826.5 L357.5,826.1 L359.5,826.4 L361.5,827.6 L363.5,829.4 L365.5,831.8 L369.5,837.7 L377.5,851.0 L381.5,856.5 L383.5,858.6 L385.5,860.0 L387.5,860.7 L388.5,860.7 L390.5,860.3 L392.5,859.4 L394.5,858.1 L397.5,855.5 L401.5,851.2 L411.5,838.9 L415.5,834.9 L417.5,833.3 L419.5,832.1 L421.5,831.3 L423.5,831.0 L425.5,831.2 L427.5,831.7 L431.5,833.6 L435.5,836.3 L445.5,844.1 L449.5,846.6 L451.5,847.5 L453.5,848.2 L456.5,848.6 L459.5,848.2 L463.5,846.9 L467.5,844.7 L476.5,838.9 L480.5,836.6 L484.5,834.9 L486.5,834.4 L488.5,834.1 L492.5,834.3 L496.5,835.0 L500.5,836.2 L511.5,839.9 L515.5,841.1 L520.5,842.1 L524.5,842.3 L528.5,842.0 L532.5,841.4 L548.5,837.6 L555.5,836.5 L558.5,836.4 L562.5,836.5 L578.5,838.1 L585.5,838.3 L592.5,837.7 L608.5,835.2 L616.5,834.4 L624.5,834.5 L641.5,835.3 L649.5,835.5 L656.5,835.4 L680.5,834.3 L727.5,834.5 L780.5,834.1 L802.5,833.5 L863.5,831.1 L887.5,831.0 L889.5,831.7 L890.5,832.4 L892.5,834.3 L895.5,837.8 L900.5,844.6 L907.5,858.0 L914.5,870.4 L920.5,880.5 L930.5,895.9 L935.5,903.1 L940.5,909.8 L950.5,922.0 L960.5,933.2 L970.5,943.3 L981.5,953.4 L989.5,960.2 L1000.5,969.1 L1030.5,992.4 L1050.5,1007.0 L1067.5,1018.5 L1084.5,1028.8 L1093.5,1033.8 L1103.5,1039.0 L1126.5,1050.1 L1136.5,1054.4 L1143.5,1057.1 L1148.5,1058.6 L1154.5,1060.2 L1179.5,1066.2 L1195.5,1069.6 L1212.5,1072.5 L1219.5,1073.4 L1227.5,1074.1 L1261.5,1076.5 L1280.5,1077.5 L1317.5,1078.6 L1348.5,1079.0 L1379.5,1078.8 L1506.5,1077.4 L1555.5,1077.0 L1577.5,1077.1 L1596.5,1078.0" stroke-width="4"/></g>
<path d="M590.4,950L738.5,147" stroke="#000" stroke-width="5" fill="none"/>
<path d="M741.3,133.8L717.5,171.5L735.3,165.3L749,178.5Z" fill="#000" stroke="#000" stroke-width="3" stroke-linejoin="round"/>
<text transform="translate(534.74,1001.00) scale(0.9810,1)" class="leg" style="font-size:53px">Mass</text>
<rect x="1152.5" y="155.5" width="345" height="324" fill="#fff" stroke="#262626" stroke-width="3"/>
<path d="M1165,192.0H1298" stroke="#77AC30" stroke-width="10"/>
<text transform="translate(1305.40,211.80) scale(0.9800,1)" class="leg" style="font-size:53px">200 mg</text>
<path d="M1165,254.5H1298" stroke="#7E2F8E" stroke-width="10"/>
<text transform="translate(1305.40,274.30) scale(0.9800,1)" class="leg" style="font-size:53px">100 mg</text>
<path d="M1165,317.0H1298" stroke="#EDB120" stroke-width="10"/>
<text transform="translate(1305.40,336.80) scale(0.9800,1)" class="leg" style="font-size:53px">75 mg</text>
<path d="M1165,379.5H1298" stroke="#D95319" stroke-width="10"/>
<text transform="translate(1305.40,399.30) scale(0.9800,1)" class="leg" style="font-size:53px">50 mg</text>
<path d="M1165,442.0H1298" stroke="#0072BD" stroke-width="10"/>
<text transform="translate(1305.40,461.80) scale(0.9800,1)" class="leg" style="font-size:53px">25 mg</text>
</svg>
</body></html>
